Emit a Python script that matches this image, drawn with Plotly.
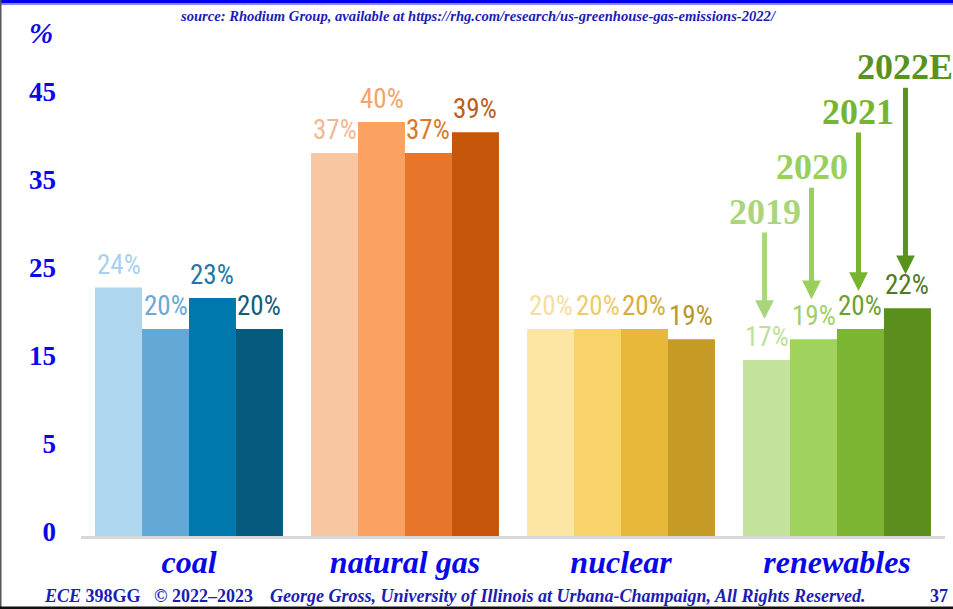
import plotly.graph_objects as go

# ---- data -------------------------------------------------------------
categories = ["coal", "natural gas", "nuclear", "renewables"]
years = ["2019", "2020", "2021", "2022E"]

share_2019 = [24, 37, 20, 17]
share_2020 = [20, 40, 20, 19]
share_2021 = [23, 37, 20, 20]
share_2022 = [20, 39, 19, 22]

y_tick_labels = ["0", "5", "15", "25", "35", "45"]

# ---- styling ----------------------------------------------------------
bar_colors = {
    "2019": ["#AED6EE", "#F8C6A0", "#FDE5A4", "#C3E29B"],
    "2020": ["#62A9D8", "#FBA263", "#F8D36B", "#A0D25E"],
    "2021": ["#0078AE", "#E8762A", "#E8B83A", "#7BB532"],
    "2022E": ["#065A7E", "#C5560A", "#C59B26", "#5A8F1E"],
}
text_colors = {
    "2019": ["#A9D1EC", "#F2B894", "#F6DDA0", "#BEDF9C"],
    "2020": ["#6AA8D6", "#F3A46A", "#EECB6A", "#A2CE6A"],
    "2021": ["#1E78A8", "#D9782E", "#D5AD3A", "#6E9E34"],
    "2022E": ["#165C7A", "#B8601C", "#B8962E", "#4E7A22"],
}
year_colors = ["#A9D67C", "#9BCF5B", "#79B431", "#5A921E"]

BLUE = "#0808E8"
DARK_BLUE = "#1C1CB4"
SERIF = "Liberation Serif, Times New Roman, serif"
NARROW = "Liberation Sans Narrow, Roboto Condensed, DejaVu Sans Condensed, Arial Narrow, sans-serif"

W, H = 953, 609
M_L, M_R, M_T, M_B = 81, 8, 60, 73
PW, PH = W - M_L - M_R, H - M_T - M_B
PX_PER_UNIT = 10.35


def px_x(px):
    return (px - M_L) / PW


def px_y(py):
    return (H - M_B - py) / PH


series = [share_2019, share_2020, share_2021, share_2022]

bargap = 0.13
bar_w = (1 - bargap) / len(years)

fig = go.Figure()
for yr, vals in zip(years, series):
    fig.add_trace(go.Bar(
        name=yr,
        x=categories,
        y=vals,
        marker=dict(color=bar_colors[yr], line=dict(width=0)),
        showlegend=False,
        hoverinfo="skip",
    ))

# invisible trace carrying the left-hand tick labels
fig.add_trace(go.Scatter(x=[categories[0]], y=[0], yaxis="y2",
                         mode="markers", marker=dict(opacity=0, size=1),
                         showlegend=False, hoverinfo="skip"))

annotations = []

# value labels above every bar
for k, (yr, vals) in enumerate(zip(years, series)):
    for i, v in enumerate(vals):
        annotations.append(dict(
            x=i + (k - 1.5) * bar_w, y=v, xref="x", yref="y",
            text=f"{v}%", showarrow=False,
            xanchor="center", yanchor="bottom", yshift=5,
            font=dict(family=NARROW, size=27, color=text_colors[yr][i]),
        ))

# year call-outs with arrows over the renewables bars
ren_idx = categories.index("renewables")
label_rise = [148, 172, 217, 241]
arrow_gap = [41, 40, 38, 34]
for k, (yr, vals) in enumerate(zip(years, series)):
    annotations.append(dict(
        x=ren_idx + (k - 1.5) * bar_w, y=vals[ren_idx], xref="x", yref="y",
        xshift=-2,
        text=f"<b>{yr}</b>", showarrow=True,
        ax=0, ay=-label_rise[k], axref="pixel", ayref="pixel",
        arrowhead=2, arrowsize=0.75, arrowwidth=5,
        arrowcolor=year_colors[k], standoff=arrow_gap[k],
        font=dict(family=SERIF, size=36, color=year_colors[k]),
        borderpad=0,
    ))

# slide text
page_text = [
    (41, 33, "center", "<b><i>%</i></b>", 29, BLUE),
    (478, 16, "center",
     "<b><i>source: Rhodium Group, available at "
     "https://rhg.com/research/us-greenhouse-gas-emissions-2022/</i></b>", 14.6, DARK_BLUE),
    (42, 596, "left", "<b><i>ECE</i> 398GG</b>", 18, DARK_BLUE),
    (152, 596, "left", "<b>© 2022–2023</b>", 18, DARK_BLUE),
    (268, 596, "left",
     "<b><i>George Gross, University of Illinois at Urbana-Champaign, "
     "All Rights Reserved.</i></b>", 18, DARK_BLUE),
    (928, 596, "left", "<b>37</b>", 18, DARK_BLUE),
]
for px, py, anchor, txt, size, col in page_text:
    annotations.append(dict(
        x=px_x(px), y=px_y(py), xref="paper", yref="paper",
        xanchor=anchor, yanchor="middle", text=txt, showarrow=False,
        font=dict(family=SERIF, size=size, color=col),
    ))

shapes = [
    # top rule
    dict(type="rect", xref="paper", yref="paper", x0=px_x(0), x1=px_x(W),
         y0=px_y(0), y1=px_y(3.5), fillcolor="#0000F0", line=dict(width=0)),
    dict(type="rect", xref="paper", yref="paper", x0=px_x(0), x1=px_x(W),
         y0=px_y(3.5), y1=px_y(5), fillcolor="#8C8CF8", line=dict(width=0)),
    # left and bottom frame
    dict(type="rect", xref="paper", yref="paper", x0=px_x(0), x1=px_x(1.5),
         y0=px_y(0), y1=px_y(H), fillcolor="#555555", line=dict(width=0)),
    dict(type="rect", xref="paper", yref="paper", x0=px_x(0), x1=px_x(W),
         y0=px_y(606.5), y1=px_y(H), fillcolor="#111111", line=dict(width=0)),
]

y_top = PH / PX_PER_UNIT
slot_px = 88.0
slot0_above_base = 4.3
y2_lo = -slot0_above_base / slot_px
y2_hi = y2_lo + PH / slot_px

fig.update_layout(
    width=W, height=H,
    margin=dict(l=M_L, r=M_R, t=M_T, b=M_B, pad=0),
    paper_bgcolor="white", plot_bgcolor="white",
    barmode="group", bargap=bargap, bargroupgap=0,
    xaxis=dict(
        range=[-0.5, len(categories) - 0.5],
        showgrid=False, zeroline=False, showline=True,
        linecolor="#D8D8D8", linewidth=3, ticks="",
        tickfont=dict(family=SERIF, size=32, color=BLUE, weight="bold", style="italic"),
        ticklabelstandoff=-4,
    ),
    yaxis=dict(range=[0, y_top], showgrid=False, zeroline=False,
               showticklabels=False, showline=False, ticks=""),
    yaxis2=dict(
        overlaying="y", side="left", range=[y2_lo, y2_hi],
        tickmode="array", tickvals=list(range(len(y_tick_labels))),
        ticktext=y_tick_labels, showgrid=False, zeroline=False,
        showline=False, ticks="", ticklabelstandoff=24,
        tickfont=dict(family=SERIF, size=27, color=BLUE, weight="bold"),
    ),
    annotations=annotations,
    shapes=shapes,
)

fig.write_html("out.html")
